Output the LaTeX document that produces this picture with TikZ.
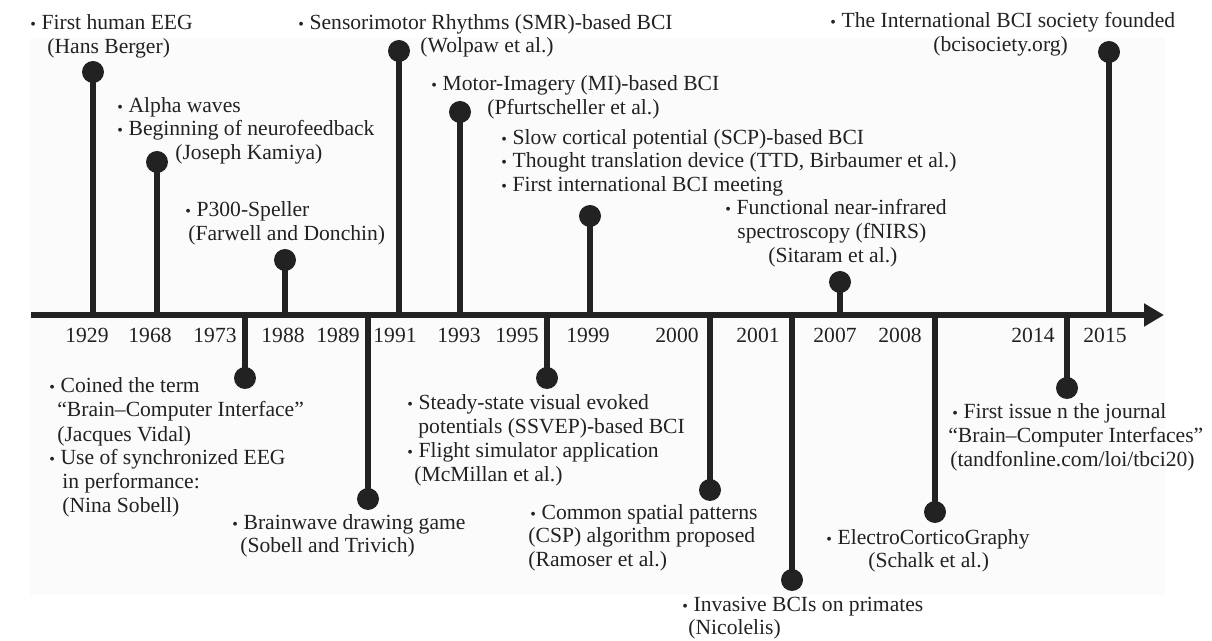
\documentclass[tikz,border=0pt]{standalone}
\usepackage{fontspec}
\setmainfont{Liberation Serif}
\usetikzlibrary{arrows.meta}
\definecolor{ink}{HTML}{222222}
\definecolor{paper}{HTML}{FBFBFB}
\newcommand\bl{{\fontsize{8}{8}\selectfont\textbullet}\hspace{2.8pt}}
\tikzset{
  txt/.style={anchor=base west, inner sep=0pt, text=ink, font=\fontsize{10.8}{12}\selectfont},
  yr/.style={anchor=base, inner sep=0pt, text=ink, font=\fontsize{10.8}{12}\selectfont},
  dot/.style={circle, fill=ink, inner sep=0pt, minimum size=11pt},
  stem/.style={draw=ink, line width=3pt},
  axis/.style={draw=ink, line width=2.6pt, -{Triangle[length=10pt,width=11pt]}}
}
\begin{document}
\begin{tikzpicture}[x=0.5pt,y=-0.5pt]
\useasboundingbox (0,0) rectangle (1212,641);
\fill[paper] (30,38) rectangle (1165,595);

% time axis
\coordinate (ax0) at (31,315);
\coordinate (ax1) at (1164,315);
\draw[axis] (ax0) -- (ax1);

% stems with end dots: name / x / dot y
\foreach \n/\x/\y in {1929/93/72, 1968/157/162, 1973/245/378, 1988/285/260,
  1989/368/499, 1991/399/51, 1993/460/112, 1995/547/378, 1999/590/216,
  2000/710/490, 2001/792/580, 2007/840/282, 2008/935/512, 2014/1067/388,
  2015/1109/52}{
  \coordinate (s\n) at (\x,315);
  \node[dot] (d\n) at (\x,\y) {};
  \draw[stem] (s\n) -- (d\n.center);
}

% year labels
\foreach \n/\x in {1929/87, 1968/150, 1973/215, 1988/283, 1989/338, 1991/395,
  1993/459, 1995/517, 1999/588, 2000/677, 2001/758, 2007/835, 2008/900,
  2014/1033, 2015/1105}{
  \node[yr] (y\n) at (\x,343) {\n};
}

% events above the axis
\node[txt] (a1) at (30,30) {\bl First human EEG};
\node[txt] (a2) at (47,54) {(Hans Berger)};

\node[txt] (b1) at (117,113) {\bl Alpha waves};
\node[txt] (b2) at (117,136) {\bl Beginning of neurofeedback};
\node[txt] (b3) at (175,160) {(Joseph Kamiya)};

\node[txt] (c1) at (185,217) {\bl P300-Speller};
\node[txt] (c2) at (188,241) {(Farwell and Donchin)};

\node[txt] (e1) at (298,30) {\bl Sensorimotor Rhythms (SMR)-based BCI};
\node[txt] (e2) at (420,53) {(Wolpaw et al.)};

\node[txt] (f1) at (431,91) {\bl Motor-Imagery (MI)-based BCI};
\node[txt] (f2) at (487,115) {(Pfurtscheller et al.)};

\node[txt] (g1) at (501,145) {\bl Slow cortical potential (SCP)-based BCI};
\node[txt] (g2) at (501,168) {\bl Thought translation device (TTD, Birbaumer et al.)};
\node[txt] (g3) at (501,192) {\bl First international BCI meeting};

\node[txt] (h1) at (725,215) {\bl Functional near-infrared};
\node[txt] (h2) at (737,239) {spectroscopy (fNIRS)};
\node[txt] (h3) at (768,263) {(Sitaram et al.)};

\node[txt] (i1) at (830,28) {\bl The International BCI society founded};
\node[txt] (i2) at (933,52) {(bcisociety.org)};

% events below the axis
\node[txt] (j1) at (49,393) {\bl Coined the term};
\node[txt] (j2) at (57,417) {“Brain–Computer Interface”};
\node[txt] (j3) at (57,442) {(Jacques Vidal)};
\node[txt] (j4) at (49,465) {\bl Use of synchronized EEG};
\node[txt] (j5) at (62,489) {in performance:};
\node[txt] (j6) at (62,513) {(Nina Sobell)};

\node[txt] (k1) at (232,530) {\bl Brainwave drawing game};
\node[txt] (k2) at (240,553) {(Sobell and Trivich)};

\node[txt] (l1) at (407,410) {\bl Steady-state visual evoked};
\node[txt] (l2) at (418,434) {potentials (SSVEP)-based BCI};
\node[txt] (l3) at (407,458) {\bl Flight simulator application};
\node[txt] (l4) at (414,482) {(McMillan et al.)};

\node[txt] (m1) at (530,520) {\bl Common spatial patterns};
\node[txt] (m2) at (528,543) {(CSP) algorithm proposed};
\node[txt] (m3) at (528,567) {(Ramoser et al.)};

\node[txt] (n1) at (682,612) {\bl Invasive BCIs on primates};
\node[txt] (n2) at (688,635) {(Nicolelis)};

\node[txt] (o1) at (826,545) {\bl ElectroCorticoGraphy};
\node[txt] (o2) at (868,568) {(Schalk et al.)};

\node[txt] (p1) at (952,419) {\bl First issue n the journal};
\node[txt] (p2) at (948,443) {“Brain–Computer Interfaces”};
\node[txt] (p3) at (950,467) {(tandfonline.com/loi/tbci20)};
\end{tikzpicture}
\end{document}
